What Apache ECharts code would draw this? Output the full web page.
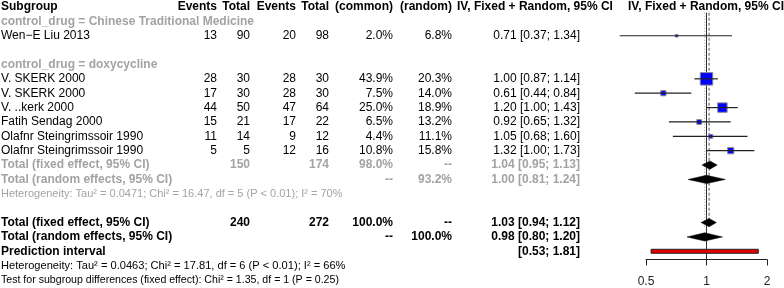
<!DOCTYPE html>
<html>
<head>
<meta charset="utf-8">
<script src="https://cdn.jsdelivr.net/npm/echarts@6/dist/echarts.min.js"></script>
<style>
  html, body { margin: 0; padding: 0; background: #fff; }
  #chart { width: 784px; height: 288px; }
</style>
</head>
<body>
<div id="chart"></div>
<script>
// study level data
const studies = ['Wen−E Liu 2013', 'V. SKERK 2000', 'V. SKERK 2000', 'V. ..kerk 2000',
  'Fatih Sendag 2000', 'Olafnr Steingrimssoir 1990', 'Olafnr Steingrimssoir 1990']
const studyRows = [2, 5, 6, 7, 8, 9, 10]
const eventsE = [13, 28, 17, 44, 15, 11, 5]
const totalE = [90, 30, 30, 50, 21, 14, 5]
const eventsC = [20, 28, 28, 47, 17, 9, 12]
const totalC = [98, 30, 30, 64, 22, 12, 16]
const weightFixed = [2.0, 43.9, 7.5, 25.0, 6.5, 4.4, 10.8]
const weightRandom = [6.8, 20.3, 14.0, 18.9, 13.2, 11.1, 15.8]
const rr = [0.71, 1.00, 0.61, 1.20, 0.92, 1.05, 1.32]
const lower = [0.37, 0.87, 0.44, 1.00, 0.65, 0.68, 1.00]
const upper = [1.34, 1.14, 0.84, 1.43, 1.32, 1.60, 1.73]

// subgroup labels
const subgroupLabels = ['control_drug = Chinese Traditional Medicine', 'control_drug = doxycycline']
const subgroupRows = [1, 4]

// pooled estimates (subgroup doxycycline, then overall)
const pooledLabels = ['Total (fixed effect, 95% CI)', 'Total (random effects, 95% CI)',
  'Total (fixed effect, 95% CI)', 'Total (random effects, 95% CI)']
const pooledRows = [11, 12, 15, 16]
const pooledGray = [true, true, false, false]
const pooledTotE = ['150', '', '240', '']
const pooledTotC = ['174', '', '272', '']
const pooledWF = ['98.0%', '--', '100.0%', '--']
const pooledWR = ['--', '93.2%', '--', '100.0%']
const pooledEst = [1.04, 1.00, 1.03, 0.98]
const pooledLo = [0.95, 0.81, 0.94, 0.80]
const pooledHi = [1.13, 1.24, 1.12, 1.20]

// prediction interval
const predRow = 17
const predInterval = [0.53, 1.81]

// footnotes
const hetTexts = [
  'Heterogeneity: Tau² = 0.0471; Chi² = 16.47, df = 5 (P < 0.01); I² = 70%',
  'Heterogeneity: Tau² = 0.0463; Chi² = 17.81, df = 6 (P < 0.01); I² = 66%',
  'Test for subgroup differences (fixed effect): Chi² = 1.35, df = 1 (P = 0.25)'
]
const hetRows = [13, 18, 19]
const hetGray = [true, false, false]
const hetSize = [11, 11.1, 10.6]

const headers = ['Subgroup', 'Events', 'Total', 'Events', 'Total', '(common)', '(random)', 'IV, Fixed + Random, 95% CI']
const refLines = [1, 1.03, 0.98] // null, fixed, random

const FONT = '"Liberation Sans", Arial, sans-serif'
const GRAY = '#a3a3a3'
const colX = [1, 217, 250, 296, 329, 393, 452, 580]
const colAlign = ['left', 'right', 'right', 'right', 'right', 'right', 'right', 'right']

const fmt = v => v.toFixed(2)
const ci = (e, l, h) => fmt(e) + ' [' + fmt(l) + '; ' + fmt(h) + ']'

// all text cells
const cells = []
const add = (x, row, text, align, bold, color, size) =>
  cells.push({ x, row, text, align, bold, color, size: size || 12 })

headers.forEach((h, i) => {
  if (i === 7) add(457, 0, h, 'left', true, '#000')
  else add(colX[i], 0, h, colAlign[i], true, '#000')
})
add(706, 0, headers[7], 'center', true, '#000')
subgroupLabels.forEach((s, i) => add(1, subgroupRows[i], s, 'left', true, GRAY))
studies.forEach((s, i) => {
  const r = studyRows[i]
  const vals = [s, eventsE[i], totalE[i], eventsC[i], totalC[i],
    weightFixed[i].toFixed(1) + '%', weightRandom[i].toFixed(1) + '%', ci(rr[i], lower[i], upper[i])]
  vals.forEach((v, j) => add(colX[j], r, String(v), colAlign[j], false, '#000'))
})
pooledLabels.forEach((s, i) => {
  const r = pooledRows[i]
  const c = pooledGray[i] ? GRAY : '#000'
  const vals = [s, '', pooledTotE[i], '', pooledTotC[i], pooledWF[i], pooledWR[i],
    ci(pooledEst[i], pooledLo[i], pooledHi[i])]
  vals.forEach((v, j) => { if (v !== '') add(colX[j], r, v, colAlign[j], true, c) })
})
add(1, predRow, 'Prediction interval', 'left', true, '#000')
add(colX[7], predRow, '[' + fmt(predInterval[0]) + '; ' + fmt(predInterval[1]) + ']', 'right', true, '#000')
hetTexts.forEach((t, i) => add(1, hetRows[i], t, 'left', false, hetGray[i] ? GRAY : '#000', hetSize[i]))

const ROW_H = 14.37
const TOP = 7
const AXIS_ROW = 17.57

const chart = echarts.init(document.getElementById('chart'), null, { renderer: 'canvas' })

chart.setOption({
  animation: false,
  grid: [
    { left: 646, width: 121, top: TOP, height: AXIS_ROW * ROW_H },
    { left: 0, width: 784, top: TOP, height: 19 * ROW_H }
  ],
  xAxis: [
    {
      gridIndex: 0, type: 'log', logBase: 2, min: 0.5, max: 2, position: 'bottom',
      axisLine: { onZero: false, lineStyle: { color: '#222', width: 1 } },
      axisTick: { length: 6, lineStyle: { color: '#222' } },
      splitLine: { show: false },
      axisLabel: { fontFamily: FONT, fontSize: 12, color: '#222', margin: 16,
        formatter: v => String(+(+v).toFixed(2)) }
    },
    { gridIndex: 1, type: 'value', min: 0, max: 784, show: false }
  ],
  yAxis: [
    { gridIndex: 0, type: 'value', min: 0, max: AXIS_ROW, inverse: true, show: false },
    { gridIndex: 1, type: 'value', min: 0, max: 19, inverse: true, show: false }
  ],
  series: [
    // reference lines
    {
      type: 'custom', xAxisIndex: 0, yAxisIndex: 0,
      data: refLines.map(v => [v]),
      renderItem(params, api) {
        const i = params.dataIndex
        const top = api.coord([api.value(0), 0.4])
        const bot = api.coord([api.value(0), i === 0 ? AXIS_ROW : 15.3])
        const styles = [
          { stroke: '#333', lineWidth: 1 },
          { stroke: '#555', lineWidth: 1, lineDash: [3, 2] },
          { stroke: '#999', lineWidth: 1, lineDash: [1, 2] }
        ]
        return { type: 'line', shape: { x1: top[0], y1: top[1], x2: bot[0], y2: bot[1] }, style: styles[i] }
      }
    },
    // studies: square + CI
    {
      type: 'custom', xAxisIndex: 0, yAxisIndex: 0,
      data: rr.map((v, i) => [v, studyRows[i], lower[i], upper[i], weightFixed[i]]),
      renderItem(params, api) {
        const c = api.coord([api.value(0), api.value(1)])
        const l = api.coord([api.value(2), api.value(1)])
        const h = api.coord([api.value(3), api.value(1)])
        const s = 12.5 * Math.sqrt(api.value(4) / 43.9)
        return {
          type: 'group', children: [
            { type: 'rect', shape: { x: c[0] - s / 2, y: c[1] - s / 2, width: s, height: s },
              style: { fill: '#0000ff', stroke: '#8a8a9a', lineWidth: 1 } },
            { type: 'line', shape: { x1: l[0], y1: l[1], x2: h[0], y2: h[1] },
              style: { stroke: '#222', lineWidth: 1.2 } }
          ]
        }
      }
    },
    // pooled diamonds
    {
      type: 'custom', xAxisIndex: 0, yAxisIndex: 0,
      data: pooledEst.map((v, i) => [v, pooledRows[i], pooledLo[i], pooledHi[i]]),
      renderItem(params, api) {
        const r = api.value(1)
        const pts = [
          api.coord([api.value(2), r]),
          api.coord([api.value(0), r - 0.29]),
          api.coord([api.value(3), r]),
          api.coord([api.value(0), r + 0.29])
        ]
        return { type: 'polygon', shape: { points: pts }, style: { fill: '#000', stroke: '#000', lineWidth: 0.5 } }
      }
    },
    // prediction interval
    {
      type: 'custom', xAxisIndex: 0, yAxisIndex: 0,
      data: [[predInterval[0], predRow, predInterval[1]]],
      renderItem(params, api) {
        const a = api.coord([api.value(0), api.value(1)])
        const b = api.coord([api.value(2), api.value(1)])
        return { type: 'rect', shape: { x: a[0], y: a[1] - 2, width: b[0] - a[0], height: 4 },
          style: { fill: '#e00000', stroke: '#222', lineWidth: 1 } }
      }
    },
    // text columns
    {
      type: 'custom', xAxisIndex: 1, yAxisIndex: 1,
      data: cells.map(c => [c.x, c.row]),
      renderItem(params, api) {
        const t = cells[params.dataIndex]
        const p = api.coord([api.value(0), api.value(1)])
        return {
          type: 'text', x: p[0], y: p[1],
          style: {
            text: t.text, fill: t.color, align: t.align, verticalAlign: 'middle',
            font: (t.bold ? 'bold ' : '') + t.size + 'px ' + FONT
          }
        }
      }
    }
  ]
})
</script>
</body>
</html>
